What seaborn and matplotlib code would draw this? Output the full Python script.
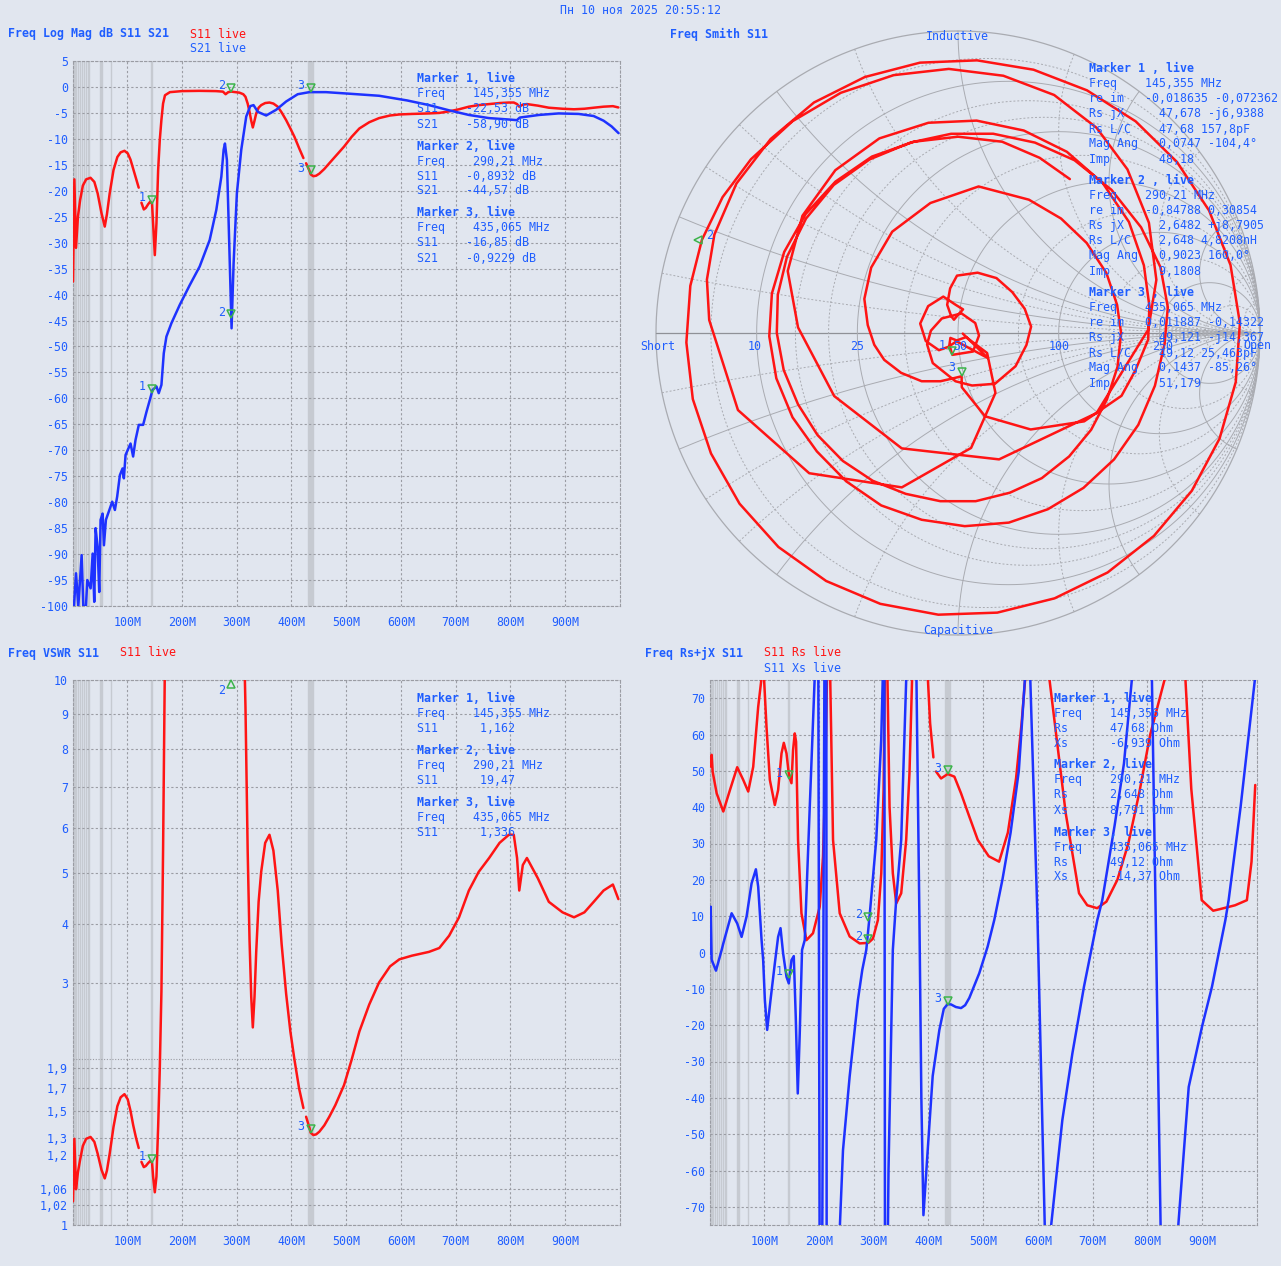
import numpy as np
import pandas as pd
import matplotlib
matplotlib.use("Agg")
import matplotlib.pyplot as plt
from matplotlib.transforms import offset_copy
import seaborn as sns

W, H = 1281, 1266
BG = "#e1e6ef"
TXT = "#1f5eff"
RED = "#ff1414"
BLUE = "#1e32ff"
GRID = "#9a9ca3"
BAND = "#c6cad1"
MK = "#3cb44b"
FS = 8.4
FONT = "DejaVu Sans Mono"

F_START, F_STOP = 1.0, 1000.0
FREQ_TICKS = [100, 200, 300, 400, 500, 600, 700, 800, 900]
FREQ_LABELS = ["100M", "200M", "300M", "400M", "500M", "600M", "700M", "800M", "900M"]
HAM_BANDS = [(1.81, 2.0), (3.5, 3.8), (7.0, 7.2), (10.1, 10.15), (14.0, 14.35),
             (18.068, 18.168), (21.0, 21.45), (24.89, 24.99), (28.0, 29.7),
             (50.0, 54.0), (70.0, 70.5), (144.0, 146.0), (430.0, 440.0)]

# ---- S11 log magnitude (MHz, dB), sweep in three pieces ----
s11_f_a = [1, 3.5, 6.5, 10, 14, 19, 25, 33, 40, 46, 53, 59, 63, 68, 75, 82, 88, 95, 101,
           106, 111, 116, 121]
s11_db_a = [-37.5, -17.8, -31, -25, -21.8, -19, -17.8, -17.5, -18.3, -20.5, -24.3, -26.9,
            -24.5, -20.5, -16, -13.5, -12.6, -12.3, -12.8, -14, -15.8, -17.6, -19.4]
s11_f_b = [126, 130.3, 134, 138.2, 142, 145.4, 147.3, 150.4, 153.4, 156.5, 159.5, 162.5,
           165.5, 169, 178, 200, 232, 262, 274.8, 279.7, 284.6, 290.2, 305, 312, 316, 320,
           323.4, 326.5, 329.4, 332.5, 335.6, 340, 344.7, 352, 359.8, 367, 374.9, 382,
           390.3, 398, 405.4, 414, 421.8]
s11_db_b = [-22.3, -23.6, -23.3, -22.6, -22.1, -22.5, -26.3, -32.4, -26.3, -16, -10.2,
            -6.3, -3.2, -1.6, -1.0, -0.8, -0.75, -0.8, -0.9, -1.4, -1.0, -0.9, -1.1, -1.4,
            -1.9, -3.2, -4.8, -6.5, -7.8, -6.5, -5.1, -4.0, -3.5, -3.1, -3.0, -3.2, -3.8,
            -4.9, -6.4, -8.0, -9.6, -11.8, -13.7]
s11_f_c = [426.7, 432.7, 435.1, 440, 445, 450.9, 460, 469.1, 480, 496, 510, 524, 542, 560,
           580, 597, 620, 651, 670, 688, 706, 724, 742, 761, 780, 797, 806, 812, 816,
           822.5, 830, 850, 870, 895, 916, 935, 952, 970, 987, 997]
s11_db_c = [-14.7, -16.1, -16.85, -17.2, -17.1, -16.7, -15.8, -14.7, -13.4, -11.5, -9.6,
            -8.0, -6.8, -6.0, -5.5, -5.3, -5.2, -5.1, -5.0, -4.7, -4.3, -3.8, -3.5, -3.3,
            -3.1, -3.0, -3.0, -3.3, -3.8, -3.4, -3.3, -3.6, -4.0, -4.2, -4.3, -4.2, -4.0,
            -3.8, -3.7, -3.95]

# ---- S21 log magnitude (MHz, dB) ----
s21_f = [2.8, 6.5, 10.7, 16.8, 19.8, 24.7, 27.1, 33.2, 36.9, 39.8, 42.3, 45.9, 48.9, 51.4,
         55.1, 57.5, 61.1, 68.4, 72.6, 77.5, 81.7, 86.6, 91.5, 93.9, 97, 106.1, 110.8,
         115.2, 121.2, 129.1, 135.2, 141.3, 146.2, 153.4, 157.6, 162.5, 166.8, 171.6,
         180.8, 195.9, 214.1, 232.3, 250.6, 262.7, 271.9, 276.1, 278.5, 282.1, 287, 290.6,
         294.3, 300.3, 308.3, 317.4, 324.7, 330.7, 338.6, 353.8, 372, 390.3, 411.4, 432.7,
         463.1, 505.5, 560.2, 611.2, 651.3, 687.7, 724.2, 760.6, 800.7, 811.6, 817, 851.6,
         888, 924.5, 951.8, 970, 984.6, 997.4]
s21_db = [-100, -93.7, -100, -90.2, -100, -100, -95, -96.6, -89.9, -99.2, -85, -88.6,
          -97.3, -83.4, -82.2, -88.3, -83.4, -81.2, -79.9, -81.5, -78.9, -74.8, -73.5,
          -75.4, -70.9, -68.7, -71.2, -68, -65.1, -65.1, -62.6, -60.3, -58.4, -57.7, -59,
          -57.4, -51.3, -48.1, -45.5, -42, -38.2, -34.6, -29.5, -23.7, -17.3, -12.1, -10.9,
          -14.1, -32.7, -46.5, -34, -20.5, -12.1, -5.7, -3.7, -3.5, -4.8, -5.5, -4.4, -2.8,
          -1.4, -1.0, -1.0, -1.3, -1.7, -2.6, -3.5, -4.5, -5.4, -6.0, -6.3, -6.4, -5.9,
          -5.4, -5.1, -5.2, -5.6, -6.5, -7.6, -8.9]

# ---- Series resistance Rs (MHz, Ohm), two pieces ----
rs_f_a = [1, 2.2, 4, 5.8, 13.2, 25.3, 37.4, 50.7, 61.7, 70.8, 79.9, 89, 95.5, 97.5, 99.5,
          104.2, 110.3, 119.4, 125.4, 131.6, 135.8, 140.7, 145.4, 149.8, 152.7, 155.8,
          158.2, 161.8, 168, 177.1, 189.1, 201.4, 207.4, 211.8, 214.7, 217.5, 220.5, 225.7,
          237.9, 256.1, 274.3, 290.2, 298.5, 307.6, 313.8, 318, 320.3, 322.5, 325, 328.9,
          334.9, 341.1, 350.2, 359.3, 365.3, 370.2, 384, 398.7, 403, 409]
rs_v_a = [51.6, 51.2, 54.4, 49.8, 43.8, 38.8, 44.7, 51, 47.5, 44.3, 51.1, 67.6, 76, 150,
          76, 62.1, 47.5, 40.6, 44.7, 54.8, 57.7, 54.8, 48.5, 46.6, 55.7, 60.3, 58, 31,
          10.8, 3.4, 5.3, 12.6, 26.4, 49.3, 76, 200, 76, 31, 10.8, 4.4, 2.5, 2.65, 3.8, 8.9,
          21.8, 44.7, 76, 200, 76, 40.1, 21.8, 13.5, 16.3, 31, 49.3, 76, 300, 76, 63.1, 53.7]
rs_f_b = [413.9, 423, 435.1, 447.3, 459.5, 474.6, 490, 510, 529, 545, 560, 570, 577, 598,
          620.3, 650.7, 675, 690, 708, 725, 745, 765, 785, 805, 832.8, 850, 869, 880, 899,
          920, 934, 960, 981.5, 990, 996.8]
rs_v_b = [49.8, 47.9, 49.12, 48.4, 43.8, 37.4, 31, 26.5, 25, 33, 48, 63, 76, 250, 76,
          38.3, 16.3, 13, 12.2, 14, 20, 30, 44, 60, 76, 200, 76, 45, 14.4, 11.5, 12, 13,
          14.4, 25, 46.1]

# ---- Series reactance Xs (MHz, Ohm) ----
xs_f = [1, 2.2, 4, 11.9, 22.3, 25.3, 40.5, 50.7, 58.7, 67.8, 76.9, 84.8, 89, 95.2, 98.1,
        101.2, 105.4, 111.5, 119.4, 125.4, 129.8, 134.5, 140.7, 144.9, 149.8, 154, 157.6,
        161.3, 164.9, 169.1, 174, 183.2, 192.3, 197, 203, 208, 213, 214.5, 226, 238,
        243.9, 256, 271.1, 279.1, 286.4, 292.4, 304.6, 313.7, 316.6, 319, 321, 327, 334.9,
        341, 350.2, 359.3, 369, 378, 383.5, 387, 390.8, 398.6, 407.7, 419.9, 428, 435.1,
        441.2, 450, 459.5, 467, 474.6, 492.8, 508, 520.1, 535, 550, 565, 576, 581, 586,
        599, 612.5, 618, 623.4, 644.5, 662.8, 684, 708.3, 717.4, 740, 757, 772, 790, 808,
        815, 824, 840, 855.8, 875.3, 899.6, 917.8, 942.2, 948.2, 970, 996.8]
xs_v = [-0.2, 12.6, -2, -5.0, 0.7, 2.5, 10.8, 8.0, 4.3, 9.9, 19.0, 22.9, 18.1, 3.4, -2.1,
        -13.1, -21.3, -13.1, -3.0, 4.3, 6.7, -0.2, -6.7, -8.5, -2.1, -1.0, -17.7, -38.8,
        -22.3, 0.7, 3.4, 40.1, 76, 200, -200, 0, 200, -200, -150, -76, -54.4, -34.2,
        -13.1, -4.8, 0.7, 9.9, 31, 58.5, 76, 150, -150, -60, 0.7, 14.4, 31, 75, 200, 76,
        8.9, -40, -72.3, -54.4, -34, -21.3, -15.5, -14.2, -14.3, -15.0, -15.3, -14.5,
        -12.5, -5.7, 1.6, 8.9, 20, 33, 50, 75, 110, 75, 10, -76, -110, -76, -46.1, -27.8,
        -9.4, 8.9, 14.4, 35, 52, 76, 150, 76, 10, -76, -130, -76, -37, -20.4, -9.4, 8.9,
        14.4, 40, 76]

# ---- Smith chart trace of S11: |Gamma| and angle (deg), in sweep order ----
smith_low_mag = [0.016, 0.129, 0.028, 0.056, 0.085, 0.11, 0.129, 0.133, 0.13, 0.094, 0.08,
                 0.06, 0.046, 0.06, 0.1, 0.15, 0.19, 0.21, 0.222, 0.225, 0.235, 0.243,
                 0.23, 0.22, 0.208, 0.18, 0.16, 0.13, 0.109, 0.09, 0.072, 0.066, 0.066,
                 0.07, 0.079, 0.0747, 0.05, 0.03, 0.025]
smith_low_ang = [-7, -40, -100, -125, -138, -166, 166, 138, 112, 95, 78, 90, 107, 112, 111,
                 100, 91, 72, 55, 37, 20, 5, -10, -30, -54, -75, -93, -130, -160, 175, 138,
                 80, 30, -7, -51, -104.4, -125, -147, -100]
smith_rise_mag = [0.03, 0.117, 0.234, 0.383, 0.544, 0.677, 0.772, 0.825]
smith_rise_ang = [-27, -34.5, -58, -83.5, -110, -136.7, -160.7, 177]
smith_pass_mag = [0.85, 0.87, 0.885, 0.893, 0.9, 0.902, 0.904, 0.905, 0.907, 0.91, 0.915,
                  0.92, 0.925, 0.93, 0.934, 0.934, 0.934, 0.934, 0.934, 0.935, 0.935,
                  0.935, 0.935, 0.933, 0.93, 0.925, 0.918, 0.91, 0.905, 0.9, 0.9, 0.9023,
                  0.9, 0.895, 0.89, 0.885, 0.88, 0.875, 0.865, 0.85, 0.82, 0.78, 0.73, 0.68]
smith_pass_ang = [168, 158, 146, 134, 122, 110, 98, 86, 74, 62, 50, 38, 26, 14, 2, -10, -22,
                  -34, -46, -58, -70, -82, -94, -106, -118, -130, -142, -154, -166, -178,
                  170, 160, 150, 140, 128, 116, 104, 92, 80, 68, 56, 44, 30, 15]
smith_stop_mag = [0.63, 0.53, 0.44, 0.425, 0.46, 0.53, 0.6, 0.645, 0.675, 0.695, 0.703,
                  0.706, 0.705, 0.70, 0.69, 0.675, 0.655, 0.64, 0.63, 0.6, 0.58, 0.51, 0.40,
                  0.29, 0.18, 0.1437]
smith_stop_ang = [1, -30, -72, -116, -153, 178, 160, 143, 127, 112, 98, 85, 72, 59, 46, 33,
                  20, 8, -2, -12, -21, -35, -53, -72, -86, -85.26]
smith_high_mag = [0.15, 0.17, 0.2, 0.23, 0.26, 0.28, 0.3, 0.33, 0.36, 0.4, 0.44, 0.49, 0.5,
                  0.51, 0.52, 0.53, 0.535, 0.54, 0.54, 0.54, 0.545, 0.55, 0.555, 0.556,
                  0.56, 0.56, 0.56, 0.565, 0.57, 0.575, 0.58, 0.59, 0.6, 0.61, 0.62, 0.63,
                  0.64, 0.645, 0.65, 0.66, 0.67, 0.68, 0.69, 0.695, 0.7, 0.705, 0.7, 0.685,
                  0.675, 0.67, 0.665, 0.66, 0.655, 0.65, 0.64, 0.63, 0.625, 0.615, 0.61,
                  0.615, 0.62, 0.625, 0.63, 0.635, 0.64, 0.645, 0.65, 0.65, 0.65, 0.65, 0.64,
                  0.63]
smith_high_ang = [-95, -110, -127, -145, -160, -172, 175, 160, 143, 123, 102, 82, 62, 48,
                  35, 22, 10, 0, -12, -24, -36, -48, -60, -72, -84, -96, -108, -120, -132,
                  -144, -156, -168, 180, 168, 156, 143, 130, 117, 104, 92, 80, 68, 56, 43,
                  30, 18, 7, -3, -15, -27, -39, -51, -63, -75, -88, -101, -114, -127, -140,
                  -153, -166, -179, 168, 155, 142, 129, 116, 103, 90, 77, 65, 54]

# ---- marker readouts ----
mk_freq = [145.355, 290.21, 435.065]
mk_s11_db = [-22.53, -0.8932, -16.85]
mk_s21_db = [-58.90, -44.57, -0.9229]
mk_vswr = [1.162, 19.47, 1.336]
mk_rs = [47.68, 2.648, 49.12]
mk_xs = [-6.939, 8.791, -14.37]
mk_re = [-0.018635, -0.84788, 0.011887]
mk_im = [-0.072362, 0.30854, -0.14322]

sns.set_style("white")
plt.rcParams["font.family"] = [FONT, "DejaVu Sans"]
plt.rcParams["axes.unicode_minus"] = False

fig = plt.figure(figsize=(W / 100, H / 100), dpi=100, facecolor=BG)


def px_box(l, t, r, b):
    return [l / W, 1 - b / H, (r - l) / W, (b - t) / H]


def ftext(x, y, s, color=TXT, bold=False, ha="left"):
    fig.text(x / W, 1 - y / H, s, color=color, fontsize=FS, ha=ha, va="center",
             fontweight="bold" if bold else "normal", family=FONT)


def style_rect(ax, ylim, yticks, ylabels):
    ax.set_facecolor(BG)
    ax.set_xlim(F_START, F_STOP)
    ax.set_ylim(*ylim)
    for lo, hi in HAM_BANDS:
        ax.axvspan(lo, hi, facecolor=BAND, edgecolor=BAND, lw=1.0, zorder=0.5)
    ax.set_xticks(FREQ_TICKS)
    ax.set_xticklabels(FREQ_LABELS)
    ax.set_yticks(yticks)
    ax.set_yticklabels(ylabels)
    ax.tick_params(axis="both", length=0, colors=TXT, labelsize=FS)
    ax.tick_params(axis="x", pad=7)
    ax.tick_params(axis="y", pad=3.5)
    ax.grid(True, color=GRID, ls=(0, (2, 2)), lw=0.8, zorder=0.8)
    ax.set_axisbelow(True)
    for s in ax.spines.values():
        s.set_linestyle((0, (2, 2)))
        s.set_color(GRID)
        s.set_linewidth(0.8)
    ax.set_xlabel("")
    ax.set_ylabel("")


def draw(ax, fs, vs, color, units=None):
    df = pd.DataFrame({"f": fs, "v": vs, "u": units if units is not None else [0] * len(fs)})
    sns.lineplot(data=df, x="f", y="v", units="u", estimator=None, sort=False,
                 color=color, lw=1.8, ax=ax, legend=False, zorder=3)
    ax.set_xlabel("")
    ax.set_ylabel("")


def marker(ax, x, y, label, kind="v", dx=-10, dy=6):
    off = {"v": (0, 4), "^": (0, -4), "<": (-4, 0)}[kind]
    tr = offset_copy(ax.transData, fig=fig, x=off[0], y=off[1], units="dots")
    ax.plot([x], [y], marker=kind, ms=6, mfc="none", mec=MK, mew=1.1, ls="none",
            transform=tr, clip_on=False, zorder=6)
    tr2 = offset_copy(ax.transData, fig=fig, x=dx, y=dy, units="dots")
    ax.text(x, y, label, transform=tr2, color=TXT, fontsize=FS, ha="center",
            va="center", family=FONT, zorder=6)


# ================= Log Mag panel =================
ax1 = fig.add_axes(px_box(73, 61, 620, 606))
ticks1 = list(range(5, -101, -5))
style_rect(ax1, (-100, 5), ticks1, [str(t) for t in ticks1])
draw(ax1, s11_f_a + s11_f_b + s11_f_c, s11_db_a + s11_db_b + s11_db_c, RED,
     [0] * len(s11_f_a) + [1] * len(s11_f_b) + [2] * len(s11_f_c))
draw(ax1, s21_f, s21_db, BLUE)
for i in range(3):
    marker(ax1, mk_freq[i], mk_s11_db[i], str(i + 1))
    marker(ax1, mk_freq[i], mk_s21_db[i], str(i + 1))

ftext(8, 34, "Freq Log Mag dB S11 S21", bold=True)
ftext(190, 34, "S11 live", color=RED)
ftext(190, 49, "S21 live")
for i, y0 in enumerate([79, 146, 213]):
    ftext(417, y0, f"Marker {i + 1}, live", bold=True)
ftext(417, 94, "Freq    145,355 MHz")
ftext(417, 109, "S11    -22,53 dB")
ftext(417, 124, "S21    -58,90 dB")
ftext(417, 161, "Freq    290,21 MHz")
ftext(417, 176, "S11    -0,8932 dB")
ftext(417, 191, "S21    -44,57 dB")
ftext(417, 228, "Freq    435,065 MHz")
ftext(417, 243, "S11    -16,85 dB")
ftext(417, 258, "S21    -0,9229 dB")

# ================= VSWR panel =================
EXP = 0.54


def vswr_fwd(v):
    v = np.asarray(v, dtype=float)
    d = np.clip(v - 1.0, 0, None)
    return d ** EXP


def vswr_inv(u):
    u = np.asarray(u, dtype=float)
    return 1.0 + np.clip(u, 0, None) ** (1.0 / EXP)


def to_vswr(db_list):
    g = 10 ** (np.asarray(db_list) / 20.0)
    return list((1 + g) / (1 - g))


ax3 = fig.add_axes(px_box(73, 680, 620, 1225))
ax3.set_yscale("function", functions=(vswr_fwd, vswr_inv))
vt = [1, 1.02, 1.06, 1.2, 1.3, 1.5, 1.7, 1.9, 3, 4, 5, 6, 7, 8, 9, 10]
style_rect(ax3, (1, 10), vt, [f"{t:g}".replace(".", ",") for t in vt])
ax3.axhline(2, color=GRID, ls=(0, (1, 1.5)), lw=0.8, zorder=0.8)
draw(ax3, s11_f_a + s11_f_b + s11_f_c,
     to_vswr(s11_db_a) + to_vswr(s11_db_b) + to_vswr(s11_db_c), RED,
     [0] * len(s11_f_a) + [1] * len(s11_f_b) + [2] * len(s11_f_c))
marker(ax3, mk_freq[0], mk_vswr[0], "1")
marker(ax3, mk_freq[1], 10, "2", kind="^", dx=-10, dy=-11)
marker(ax3, mk_freq[2], mk_vswr[2], "3")

ftext(8, 653, "Freq VSWR S11", bold=True)
ftext(120, 653, "S11 live", color=RED)
for i, y0 in enumerate([698, 750, 802]):
    ftext(417, y0, f"Marker {i + 1}, live", bold=True)
ftext(417, 713, "Freq    145,355 MHz")
ftext(417, 728, "S11      1,162")
ftext(417, 765, "Freq    290,21 MHz")
ftext(417, 780, "S11      19,47")
ftext(417, 817, "Freq    435,065 MHz")
ftext(417, 832, "S11      1,336")

# ================= Rs + jX panel =================
ax4 = fig.add_axes(px_box(710, 680, 1257, 1225))
t4 = list(range(70, -71, -10))
style_rect(ax4, (-75, 75), t4, [str(t) for t in t4])
draw(ax4, rs_f_a + rs_f_b, rs_v_a + rs_v_b, RED, [0] * len(rs_f_a) + [1] * len(rs_f_b))
draw(ax4, xs_f, xs_v, BLUE)
for i in range(3):
    marker(ax4, mk_freq[i], mk_rs[i], str(i + 1))
    marker(ax4, mk_freq[i], mk_xs[i], str(i + 1))

ftext(645, 653, "Freq Rs+jX S11", bold=True)
ftext(764, 653, "S11 Rs live", color=RED)
ftext(764, 668, "S11 Xs live")
for i, y0 in enumerate([698, 765, 832]):
    ftext(1054, y0, f"Marker {i + 1}, live", bold=True)
ftext(1054, 713, "Freq    145,356 MHz")
ftext(1054, 728, "Rs      47,68 Ohm")
ftext(1054, 743, "Xs      -6,939 Ohm")
ftext(1054, 780, "Freq    290,21 MHz")
ftext(1054, 795, "Rs      2,648 Ohm")
ftext(1054, 810, "Xs      8,791 Ohm")
ftext(1054, 847, "Freq    435,065 MHz")
ftext(1054, 862, "Rs      49,12 Ohm")
ftext(1054, 877, "Xs      -14,37 Ohm")

# ================= Smith chart =================
CX, CY, RAD = 958, 333, 302
ax2 = fig.add_axes(px_box(640, 20, 1280, 646))
ax2.set_xlim((640 - CX) / RAD, (1280 - CX) / RAD)
ax2.set_ylim((CY - 646) / RAD, (CY - 20) / RAD)
ax2.axis("off")

SMITH_GRID = "#a9abb1"
th = np.linspace(0, 2 * np.pi, 721)
ax2.plot(np.cos(th), np.sin(th), color=SMITH_GRID, lw=0.9, zorder=1)
ax2.plot([-1, 1], [0, 0], color="#8f9197", lw=0.9, zorder=1)
r_major = [10, 25, 50, 100, 250]
r_minor = [5, 15, 20, 35, 75, 150, 500, 1000]
x_major = [10, 25, 50, 100, 250]
x_minor = [5, 15, 20, 35, 75, 150, 500, 1000]
for r_ohm, style in [(r, "-") for r in r_major] + [(r, (0, (2, 2))) for r in r_minor]:
    r = r_ohm / 50.0
    c, rr = r / (1 + r), 1 / (1 + r)
    ax2.plot(c + rr * np.cos(th), rr * np.sin(th), color=SMITH_GRID, lw=0.7, ls=style, zorder=1)
tt = np.concatenate([[0], np.logspace(-3, 3.5, 500)])
for x_ohm, style in [(x, "-") for x in x_major] + [(x, (0, (2, 2))) for x in x_minor]:
    for sgn in (1, -1):
        z = tt + 1j * sgn * x_ohm / 50.0
        g = (z - 1) / (z + 1)
        ax2.plot(g.real, g.imag, color=SMITH_GRID, lw=0.7, ls=style, zorder=1)

smith_mag = smith_low_mag + smith_rise_mag + smith_pass_mag + smith_stop_mag + smith_high_mag
smith_ang = smith_low_ang + smith_rise_ang + smith_pass_ang + smith_stop_ang + smith_high_ang
gam = np.asarray(smith_mag) * np.exp(1j * np.deg2rad(smith_ang))
sdf = pd.DataFrame({"re": gam.real, "im": gam.imag})
sns.lineplot(data=sdf, x="re", y="im", sort=False, estimator=None, color=RED, lw=1.8,
             ax=ax2, legend=False, zorder=3)
ax2.set_xlabel("")
ax2.set_ylabel("")

marker(ax2, mk_re[0], mk_im[0], "1", dx=-10, dy=9)
marker(ax2, mk_re[1], mk_im[1], "2", kind="<", dx=8, dy=4)
marker(ax2, mk_re[2], mk_im[2], "3", dx=-10, dy=9)

ftext(957, 37, "Inductive", ha="center")
ftext(958, 631, "Capacitive", ha="center")
ftext(640, 346, "Short")
ftext(1257, 346, "Open", ha="center")
for lab, xp in [("10", 755), ("25", 857), ("50", 960), ("100", 1059), ("250", 1163)]:
    ftext(xp, 346, lab, ha="center")

ftext(670, 34, "Freq Smith S11", bold=True)
smith_lines = [
    ["Freq    145,355 MHz", "re im   -0,018635 -0,072362", "Rs jX     47,678 -j6,9388",
     "Rs L/C    47,68 157,8pF", "Mag Ang   0,0747 -104,4°", "Imp       48,18"],
    ["Freq    290,21 MHz", "re im   -0,84788 0,30854", "Rs jX     2,6482 +j8,7905",
     "Rs L/C    2,648 4,8208nH", "Mag Ang   0,9023 160,0°", "Imp       9,1808"],
    ["Freq    435,065 MHz", "re im   0,011887 -0,14322", "Rs jX     49,121 -j14,367",
     "Rs L/C    49,12 25,463pF", "Mag Ang   0,1437 -85,26°", "Imp       51,179"],
]
for i, y0 in enumerate([69, 181, 293]):
    ftext(1089, y0, f"Marker {i + 1} , live", bold=True)
    for k, line in enumerate(smith_lines[i]):
        ftext(1089, y0 + 15 * (k + 1), line)

ftext(640, 11, "Пн 10 ноя 2025 20:55:12", ha="center")

fig.savefig("out.png", dpi=100, facecolor=BG)
